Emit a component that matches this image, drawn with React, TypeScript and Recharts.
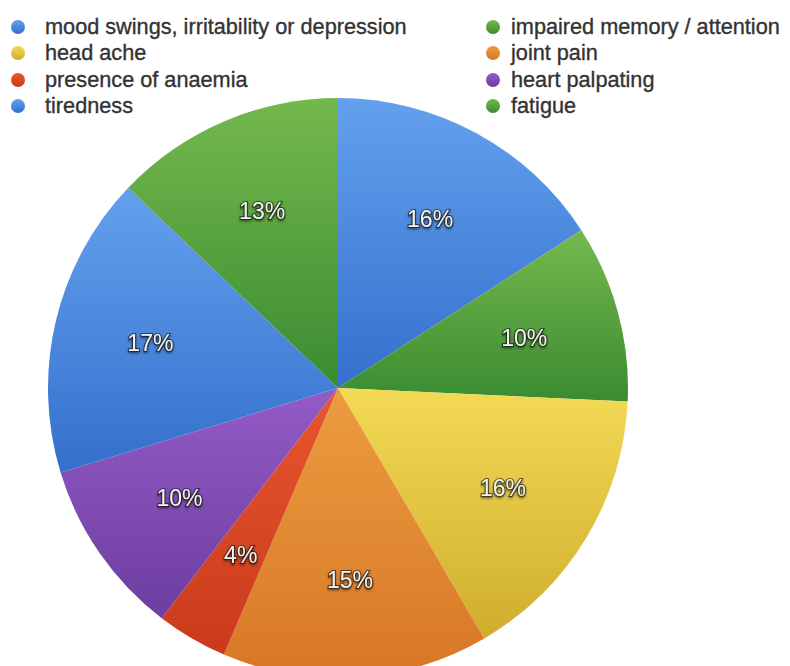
import React from 'react'
import { PieChart, Pie, Cell } from 'recharts'

// symptoms, listed clockwise from 12 o'clock
const symptoms = [
  'mood swings, irritability or depression',
  'impaired memory / attention',
  'head ache',
  'joint pain',
  'presence of anaemia',
  'heart palpating',
  'tiredness',
  'fatigue',
]
const shares = [16, 10, 16, 15, 4, 10, 17, 13]

// [top, bottom] of the vertical shading on each slice
const shades: [string, string][] = [
  ['#63a1ee', '#3470cc'],
  ['#75b94d', '#3a8b31'],
  ['#f3da55', '#cfad2e'],
  ['#ec9c40', '#d87726'],
  ['#e8562d', '#c93a1c'],
  ['#935bc6', '#6d3d9f'],
  ['#63a1ee', '#3470cc'],
  ['#75b94d', '#3a8b31'],
]

const data = symptoms.map((name, i) => ({ name, value: shares[i] }))

const W = 790
const H = 666
const RADIAN = Math.PI / 180

const renderLabel = (props: any) => {
  const { cx, cy, midAngle, outerRadius, value } = props
  const r = outerRadius * 0.665
  const x = cx + r * Math.cos(-midAngle * RADIAN)
  const y = cy + r * Math.sin(-midAngle * RADIAN)
  return (
    <text
      x={x}
      y={y}
      textAnchor="middle"
      dominantBaseline="central"
      fontFamily="'Liberation Sans', Arial, sans-serif"
      fontSize={23}
      fill="#f4f4ee"
      stroke="rgba(25,25,25,0.6)"
      strokeWidth={2.2}
      paintOrder="stroke"
      filter="url(#emboss)"
    >
      {value}%
    </text>
  )
}

function SymptomLegend() {
  return (
    <div style={{ position: 'absolute', left: 0, top: 0, width: W, height: 120, pointerEvents: 'none' }}>
      {symptoms.map((name, i) => {
        const col = i % 2
        const row = Math.floor(i / 2)
        const cy = 27 + row * 26.3
        const mx = col === 0 ? 18 : 493
        const tx = col === 0 ? 45 : 511
        return (
          <React.Fragment key={name}>
            <div
              style={{
                position: 'absolute',
                left: mx - 7,
                top: cy - 7,
                width: 14,
                height: 14,
                borderRadius: 7,
                background: `linear-gradient(${shades[i][0]}, ${shades[i][1]})`,
              }}
            />
            <div
              style={{
                position: 'absolute',
                left: tx,
                top: cy - 13,
                height: 26,
                lineHeight: '26px',
                whiteSpace: 'nowrap',
                fontFamily: "'Liberation Sans', Arial, sans-serif",
                fontSize: 21.7,
                color: '#333',
                WebkitTextStroke: '0.35px #333',
              }}
            >
              {name}
            </div>
          </React.Fragment>
        )
      })}
    </div>
  )
}

export default function App() {
  return (
    <div style={{ position: 'absolute', left: 0, top: 0, width: W, height: H, background: '#fff', overflow: 'hidden' }}>
      <PieChart width={W} height={H} margin={{ top: 0, right: 0, bottom: 0, left: 0 }}>
        <defs>
          {shades.map(([top, bottom], i) => (
            <linearGradient key={i} id={`slice-${i}`} x1="0" y1="0" x2="0" y2="1">
              <stop offset="0%" stopColor={top} />
              <stop offset="100%" stopColor={bottom} />
            </linearGradient>
          ))}
          <filter id="emboss" x="-20%" y="-30%" width="140%" height="160%">
            <feDropShadow dx="0" dy="1.5" stdDeviation="1" floodColor="#000" floodOpacity="0.6" />
          </filter>
        </defs>
        <Pie
          data={data}
          dataKey="value"
          nameKey="name"
          cx={338}
          cy={388}
          outerRadius={290}
          startAngle={90}
          endAngle={-270}
          stroke="none"
          label={renderLabel}
          labelLine={false}
          isAnimationActive={false}
        >
          {data.map((d, i) => (
            <Cell key={d.name} fill={`url(#slice-${i})`} />
          ))}
        </Pie>
      </PieChart>
      <SymptomLegend />
    </div>
  )
}
